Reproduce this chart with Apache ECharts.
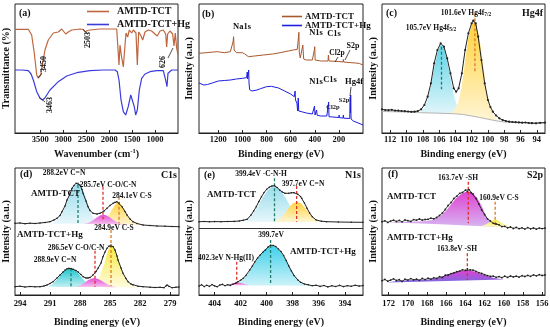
<!DOCTYPE html>
<html><head><meta charset="utf-8">
<script src="https://cdn.jsdelivr.net/npm/echarts@6/dist/echarts.min.js"></script>
<style>html,body{margin:0;padding:0;background:#fff}#c{width:550px;height:327px}</style>
</head><body><div id="c"></div>
<script>
// ---------- tick labels ----------
const ftirTicks = [3500,3000,2500,2000,1500,1000];
const surveyTicks = [1200,1000,800,600,400,200];
const hg4fTicks = [112,110,108,106,104,102,100,98,96,94];
const c1sTicks = [294,291,288,285,282,279];
const n1sTicks = [404,402,400,398,396,394];
const s2pTicks = [172,170,168,166,164,162,160,158,156];

// ---------- (a) FTIR ----------
const ftirTCT = [[4050,103.7],[3900,103.7],[3760,103.7],[3687,98],[3630,80],[3577,58],[3543,55],[3490,58],[3447,70],[3397,83],[3325,93],[3216,100],[3107,101],[3033,104],[2998,102],[2946,99],[2924,97],[2889,101],[2815,103],[2634,104],[2560,103.5],[2525,101],[2500,100],[2470,102.5],[2416,103],[2199,104],[1909,104],[1835,104],[1800,103],[1785,68],[1763,88],[1735,78],[1691,66],[1654,88],[1632,100],[1596,96],[1560,103],[1509,100],[1473,103],[1415,100],[1386,68],[1356,101],[1313,98],[1269,93],[1219,101],[1147,103],[1074,102],[1001,99],[951,97],[892,102],[820,103],[768,99],[747,86],[725,99],[675,102],[617,99],[588,87],[559,100],[530,85],[500,78]];
const ftirHg = [[4050,63],[3900,63],[3760,62.3],[3700,59],[3651,53],[3577,41.3],[3505,34.7],[3450,33],[3400,35],[3288,43],[3107,51.3],[2924,57],[2706,60.3],[2416,62.3],[2127,63],[1872,63],[1822,61.3],[1785,53],[1741,33],[1691,21.3],[1639,18],[1584,26.3],[1529,38],[1487,36.3],[1452,26.3],[1422,18],[1386,23],[1342,43],[1291,54.7],[1219,59],[1110,61.3],[965,62.3],[820,62.3],[780,62],[761,51.3],[740,46.3],[718,59.7],[637,63],[500,63]];

// ---------- (b) XPS survey ----------
const surveyTCT = [[1360,79.7],[1300,80.3],[1240,81],[1213,81.3],[1200,83],[1190,81],[1150,80.3],[1100,81.3],[1085,81.5],[1078,91],[1073,96.3],[1068,83],[1050,80.3],[1000,80.3],[980,79],[970,78],[950,76.3],[900,77],[826,78],[750,79],[688,80.3],[620,82],[578,83],[545,83.7],[535,96],[532,100.7],[528,80],[520,75],[505,75],[499,88],[496,90],[492,74],[470,73],[420,73],[405,73],[402,84],[400,86.3],[397,73],[350,72],[290,72],[287,78],[285,80],[282,72],[270,72],[200,71.5],[198,73],[195,71],[165,71],[163,73.5],[160,71],[100,70.3],[60,70],[30,69.5],[0,68]];
const surveyHg = [[1360,50],[1320,48],[1290,48.5],[1250,50],[1200,52],[1150,52.5],[1100,53],[1050,54],[1000,54.7],[965,55.3],[960,61],[957,54],[952,56],[948,63],[945,50],[940,43.3],[920,42],[880,43],[850,44.3],[800,46.3],[760,46.7],[700,45],[650,42],[600,39],[570,36.3],[566,35],[563,42],[560,33],[548,30],[542,22],[537,35],[533,22],[528,21.3],[520,21.3],[500,21],[470,20],[420,19],[405,18.3],[402,27],[398,18],[390,18],[385,23],[380,17.7],[370,17.7],[350,17],[300,17],[288,16.7],[285,31],[282,16.3],[250,16],[200,15.5],[198,18],[195,15.3],[165,15],[163,18],[160,14.8],[110,14.5],[106,36],[104,20],[102,38],[99,14],[80,12],[40,10],[0,8]];

// ---------- (c) Hg4f ----------
const hg4fData = [[113,23.7],[112.6,23],[112.2,22.8],[111.8,23.2],[111.4,22.4],[111,22.3],[110.6,22],[110.2,21.8],[109.8,21.5],[109.4,21.2],[109,21.3],[108.6,22],[108.2,23.7],[107.8,28],[107.4,36.3],[107,49.7],[106.6,69.7],[106.2,83],[105.8,89.7],[105.4,86.3],[105,74.7],[104.6,59.7],[104.2,44.7],[103.9,41.3],[103.6,44.7],[103.2,59.7],[102.8,83],[102.4,99.7],[102,109.7],[101.8,112.3],[101.5,109.7],[101.2,96.3],[100.8,73],[100.4,49.7],[100,33],[99.7,26],[99.4,21.3],[99,17.5],[98.6,14.7],[98.2,13],[97.8,12],[97.4,11.3],[97,11],[96.6,10.8],[96.2,10.6],[95.8,10.3],[95.4,10.5],[95,10],[94.6,9.8],[94.1,9.7],[93.6,10.2],[93,10.3]];
const hg4fBase = [[113,21.5],[110,21],[108.4,20.3],[106,19.8],[104,19.2],[103,18.5],[102,17],[101,15.5],[100,13.8],[99,12.2],[98,11],[97,10.5],[95,10.2],[93,10]];
const hg4f52 = [[108.4,20.3],[107.8,25],[107.4,33],[107,47],[106.6,65],[106.2,80],[105.8,88.5],[105.4,85],[105,72],[104.6,55],[104.2,38],[103.8,27],[103.4,21.5],[103,18.5]];
const hg4f72 = [[104.8,19.4],[104.4,21],[104,24],[103.6,32],[103.2,47],[102.8,72],[102.4,95],[102,108],[101.7,111.5],[101.4,108],[101,92],[100.6,68],[100.2,44],[99.8,28],[99.4,19],[99,14.5],[98.6,12.2],[98,11]];
const hg4fMarks = [[105.7,86.3,43.7],[101.6,119.7,61.3]];

// ---------- (d) C1s ----------
const c1sTCT = [[294.5,71.7],[294,72],[293.5,71.3],[293,71.8],[292.5,71.5],[292,72],[291.5,72.5],[291,73.3],[290.6,75],[290.3,76.7],[290,79.5],[289.8,83.3],[289.5,89],[289.3,95],[289,101],[288.8,106.7],[288.6,109.5],[288.4,111.7],[288.2,111.8],[288,110],[287.8,105.5],[287.7,101.7],[287.4,94],[287.2,88.3],[287,84.5],[286.7,81.7],[286.3,81],[286,81.7],[285.6,84],[285.3,86.7],[285,89.5],[284.7,91.7],[284.5,92.8],[284.3,93.3],[284.1,92],[283.8,88.3],[283.5,83.5],[283.3,80],[283,76],[282.7,73.3],[282.3,71.5],[281.7,70],[281,69.5],[280.3,69],[279.5,68.8],[278.8,68.5],[278.1,68.3]];
const c1sTCTBase = [[294.5,71.5],[291,71.4],[290,71.3],[289,71.2],[288,71.1],[287,71],[286,70.9],[285,70.7],[284,70.5],[283,70.2],[282,69.8],[281,69.4],[278.1,68.5]];
const c1sTCT_CN = [[290.8,71.3],[290.4,74],[290,78],[289.6,85],[289.2,96],[288.8,105.5],[288.4,110.5],[288.2,111],[287.9,109],[287.6,103],[287.2,91],[286.8,79],[286.4,74.5],[286,72.5],[285.6,71.3],[285.2,70.8]];
const c1sTCT_CO = [[287.6,71],[287.2,72],[286.8,74],[286.4,77],[286,79.5],[285.7,80.3],[285.4,79.7],[285,77.5],[284.6,74.5],[284.2,72.3],[283.8,71],[283.4,70.3]];
const c1sTCT_CS = [[286.2,70.9],[285.8,72.5],[285.4,76],[285,82],[284.6,88.5],[284.3,92.5],[284.1,93],[283.8,89.5],[283.5,84],[283.2,78.5],[282.8,74],[282.4,71.5],[282,69.8]];
const c1sTCTMarks = [[288.2,110,71.7],[285.7,108.3,75.7],[284.1,98.3,71.7]];
const c1sHg = [[294.5,8.3],[294,8.8],[293.5,8],[293,8.5],[292.5,8.2],[292,8.3],[291.6,9],[291.3,10],[291,11.5],[290.7,13.3],[290.3,17],[290,20],[289.7,23],[289.5,25],[289.3,26.2],[289.1,26.7],[288.9,26.5],[288.7,25.7],[288.4,24.5],[288.2,23.3],[287.9,20.5],[287.7,18.3],[287.4,17],[287.2,16.7],[287,17.5],[286.7,20],[286.4,23.5],[286.2,26.7],[285.9,32],[285.7,38.3],[285.5,43],[285.3,46.7],[285.1,49],[284.9,50],[284.7,48.5],[284.5,45],[284.3,39],[284.2,35],[283.9,27],[283.7,21.7],[283.4,16.5],[283.2,13.3],[282.9,11],[282.7,10],[282.2,8.8],[281.7,8.3],[281,7.8],[280.5,7.5],[280,7.7],[279.6,7.3],[279.4,9],[279.3,10],[279.1,8.5],[278.8,7.2],[278.4,7.8],[278.1,8]];
const c1sHgBase = [[294.5,8.2],[291,8.2],[290,8.1],[289,8.1],[288,8],[287,8],[286,7.9],[285,7.8],[284,7.7],[283,7.6],[282,7.5],[278.1,7.3]];
const c1sHg_CN = [[291.2,8.2],[290.8,10.5],[290.4,14.5],[290,19.5],[289.6,23.8],[289.2,26.2],[288.9,26.5],[288.6,25.5],[288.2,22],[287.8,17],[287.4,12.5],[287,9.8],[286.6,8.5],[286.2,7.9]];
const c1sHg_CO = [[288.4,8],[288,9.5],[287.6,12],[287.2,14.8],[286.8,16.5],[286.5,16.8],[286.2,16],[285.8,14],[285.4,11.5],[285,9.5],[284.6,8.3],[284.2,7.7]];
const c1sHg_CS = [[287.2,8],[286.8,9.5],[286.4,12.5],[286,19],[285.6,30],[285.3,41],[285.1,47],[284.9,49.5],[284.7,48.5],[284.5,45],[284.2,37],[283.9,28],[283.6,20],[283.2,13.5],[282.8,9.8],[282.4,8],[282,7.5]];
const c1sHgMarks = [[288.9,26.7,8.3],[286.5,44.3,8.3],[284.9,65,9]];

// ---------- (e) N1s ----------
const n1sTCT = [[405.2,73.3],[404.8,73.5],[404.4,73.2],[404,73.4],[403.5,73.3],[403,73.5],[402.5,73.6],[402.1,74],[401.8,74.8],[401.5,75.7],[401.2,80],[401,84],[400.8,88.3],[400.6,93.5],[400.4,98.3],[400.2,102.5],[400,105.7],[399.8,107.8],[399.6,109],[399.4,109.3],[399.2,107.5],[399,105],[398.8,103],[398.6,101.7],[398.3,101.7],[398.1,102.2],[397.9,102.3],[397.6,100.7],[397.4,98.5],[397.3,96.7],[397.1,92],[396.9,86.7],[396.7,82],[396.5,78.3],[396.2,75],[395.8,73.8],[395.4,73.3],[394.5,73],[393.5,72.8],[392.6,72.7]];
const n1sTCTBase = [[405.2,73.3],[402,73.3],[401,73.2],[400,73.1],[399,73],[398,73],[397,72.9],[396,72.9],[395,72.8],[392.6,72.7]];
const n1sTCT_CNH = [[401.9,73.3],[401.5,75.5],[401.1,80],[400.7,88],[400.3,97.5],[399.9,105],[399.6,108.3],[399.4,108.8],[399.1,106.5],[398.8,102],[398.5,96],[398.2,89],[397.9,83],[397.5,77.5],[397.1,74.5],[396.7,73.2]];
const n1sTCT_CN = [[399.6,73],[399.2,74.5],[398.9,77],[398.6,81.5],[398.3,87],[398,91.5],[397.7,93],[397.4,92],[397.1,88],[396.8,83],[396.5,78],[396.2,75],[395.8,73.2],[395.4,72.8]];
const n1sTCTMarks = [[399.4,116.7,73.3],[397.7,109,73.3]];
const n1sHg = [[405.2,9],[405,10.2],[404.8,8.4],[404.6,9.8],[404.4,8.6],[404.2,10.4],[404,9.1],[403.8,8.2],[403.6,9.9],[403.4,10.6],[403.2,9.3],[403,10.3],[402.8,9.6],[402.6,10.7],[402.4,11.8],[402.2,13.3],[402,14.8],[401.8,16.7],[401.6,19.5],[401.3,25],[401.1,29],[400.9,33.3],[400.7,37],[400.5,40],[400.3,42.8],[400.1,45],[399.9,48],[399.7,49.8],[399.5,49.5],[399.3,48.5],[399.1,46],[398.9,43.5],[398.7,39.5],[398.5,34.5],[398.3,29],[398.1,24],[397.9,19.5],[397.6,15],[397.4,12.8],[397.1,11],[396.8,10.2],[396.5,9.3],[396.2,9.8],[395.9,8.6],[395.6,9.5],[395.3,8.1],[395,9.2],[394.7,8.5],[394.4,9.6],[394.1,8.4],[393.8,9.3],[393.5,8.7],[393.2,9.8],[392.9,8.9],[392.6,9.4]];
const n1sHgBase = [[405.2,9.8],[403,9.8],[402,9.7],[401,9.6],[400,9.5],[399,9.4],[398,9.3],[397,9.2],[396,9.1],[392.6,9]];
const n1sHg_CNH = [[402.6,9.75],[402.2,12],[401.8,15.5],[401.4,22],[401,30],[400.6,38.5],[400.2,45],[399.8,48.8],[399.6,49.3],[399.3,48],[399,44.5],[398.6,37],[398.2,27],[397.8,18.5],[397.4,13],[397,10.5],[396.6,9.4]];
const n1sHg_NHg = [[403.2,9.8],[402.9,10.6],[402.6,11.7],[402.3,12.4],[402,12],[401.7,11],[401.4,10.1],[401.1,9.65]];
const n1sHgMarks = [[399.7,55,10],[402.3,33.3,11]];
const n1sDivider = [66.7];

// ---------- (f) S2p ----------
const s2pTCT = [[172.7,73.3],[172.4,74.2],[172.1,72.6],[171.8,73.9],[171.5,74.8],[171.2,73.5],[170.9,74.6],[170.6,73.2],[170.3,75.1],[170,74.3],[169.7,73.6],[169.4,75.4],[169.1,74.8],[168.8,76],[168.5,74.9],[168.2,75.5],[167.9,75.7],[167.6,76.8],[167.3,76.2],[167,77.5],[166.7,79.5],[166.4,82],[166.1,85.5],[165.8,89.5],[165.5,92.5],[165.2,96.5],[164.9,98.8],[164.6,101.7],[164.3,102.5],[164,104.8],[163.8,103.5],[163.6,105.2],[163.4,102.3],[163.2,101.2],[162.9,96.5],[162.6,91],[162.3,85],[162,80.5],[161.7,76.2],[161.4,74],[161.1,71.7],[160.8,71],[160.5,70.2],[160.2,68.4],[159.9,68.7],[159.6,67.2],[159.3,68],[159,66.5],[158.7,67.6],[158.4,66.3],[158.1,67.2],[157.8,65.9],[157.5,67.4],[157.2,66.2],[156.9,67],[156.6,65.8],[156.3,66.9],[156,66.4],[155.7,66.8]];
const s2pTCTBase = [[172.7,72.2],[170,72],[168,71.3],[166,70.5],[164,69.5],[162,68.7],[160,67.8],[158,66.8],[155.7,66.5]];
const s2pTCT_SH = [[172.2,72.2],[171,73],[170,73.3],[169,73.5],[168,74],[167.5,75],[167,76.5],[166.5,79.8],[166,84.5],[165.5,90.5],[165,96.5],[164.5,100.5],[164,103],[163.7,103.5],[163.3,102.5],[162.8,97.5],[162.3,89],[161.8,78],[161.3,72],[160.8,69.2],[160.3,68.1],[160,67.8]];
const s2pTCT_CS = [[162.4,68.85],[162,70],[161.6,72],[161.2,74.5],[160.9,75.5],[160.6,74.5],[160.2,72],[159.8,70],[159.4,68.5],[159,67.5],[158.6,67.1],[158,66.8]];
const s2pTCTMarks = [[163.7,113.3,71.7],[160.9,93.3,68.3]];
const s2pHg = [[172.7,14.3],[172.4,15.6],[172.1,13.8],[171.8,14.9],[171.5,16.2],[171.2,14.5],[170.9,15.3],[170.6,13.6],[170.3,15.8],[170,14.9],[169.7,16.4],[169.4,15.2],[169.1,15.9],[168.8,14.7],[168.5,16.6],[168.2,15.4],[167.9,16.8],[167.6,15.9],[167.3,17.2],[167,16.6],[166.7,18.3],[166.4,17.6],[166.1,19.8],[165.8,20],[165.5,21.4],[165.2,22.1],[164.9,23.3],[164.6,23.9],[164.3,25.2],[164,24.6],[163.8,26.2],[163.5,25.1],[163.2,24.8],[162.9,23.6],[162.6,22.4],[162.3,21.5],[162,20.3],[161.7,19.4],[161.4,18.6],[161.1,18.9],[160.8,17.7],[160.5,18.4],[160.2,17.3],[159.9,18.8],[159.6,17.6],[159.3,19],[159,18.1],[158.7,18.8],[158.4,17.9],[158.1,19.3],[157.8,18.5],[157.5,19.6],[157.2,18.7],[156.9,20.1],[156.6,19.2],[156.3,20.3],[156,19.5],[155.7,20]];
const s2pHgBase = [[172.7,12.5],[170,13],[168,13.5],[166,14],[164,14.5],[162,15],[160,15.5],[158,16],[155.7,16.5]];
const s2pHg_SH = [[172.2,12.6],[171,14.3],[170,14.8],[169,15.2],[168,15.6],[167.5,16],[167,16.7],[166.5,18.2],[166,20],[165.5,21.6],[165,23],[164.5,24],[164,24.6],[163.8,24.7],[163.4,24.3],[163,23.2],[162.5,21.5],[162,19.8],[161.5,18.3],[161,17.1],[160.5,16.2],[160,15.5]];
const s2pHgMarks = [[163.8,41.7,15]];

// ---------- styling ----------
const F = "'Liberation Serif','Times New Roman',serif";
const INK = '#111';
const RED_A = '#c0663f', BLUE_A = '#3b3bdc';
const RED_B = '#a8582e', BLUE_B = '#1e1ee0';
const TEAL = '#1f7f6a', REDD = '#e0302a', ORANGE = '#dd7a22';
const CY = ['#5fd4e6','#e2f6fa'], CY2 = ['#20c6d0','#c4f0f3'], CY3 = ['#40d0ea','#cdf3f9'], CYL = ['#98dcec','#e8f7fb'];
const YE = ['#ffd23c','#fff6d6'], YE2 = ['#f6ea3c','#fffbe0'];
const MA = ['#e24ad6','#f6c6ef'], MAF = ['#e042d2','#d6b6f2'], MAB = ['#e042d2','#7a6ae2'];

const grids = [
  {left:15, top:4, width:163, height:129},
  {left:199, top:4, width:164, height:129},
  {left:382, top:4, width:163, height:129},
  {left:15, top:168, width:164, height:127},
  {left:199, top:168, width:164, height:127},
  {left:382, top:168, width:163, height:127}
].map(g => Object.assign({show:true, borderColor:'#222', borderWidth:1, backgroundColor:'transparent',
  containLabel:false, outerBoundsMode:'none'}, g));

function xAx(gi, min, max, ticks, name, gap, margin){
  return {type:'value', gridIndex:gi, min, max, inverse:true, name, nameLocation:'middle', nameGap:gap,
    nameTextStyle:{fontFamily:F, fontWeight:'bold', fontSize:10, color:INK, lineHeight:12,
      rich:{sup:{fontFamily:F, fontWeight:'bold', fontSize:6.5, color:INK, verticalAlign:'top', lineHeight:7}}},
    axisLine:{show:true, onZero:false, lineStyle:{color:'#222', width:1}},
    axisTick:{show:true, inside:true, length:3, customValues:ticks, lineStyle:{color:'#222', width:1}},
    axisLabel:{show:true, customValues:ticks, formatter:v => String(v), hideOverlap:false,
      fontFamily:F, fontWeight:'bold', fontSize:8.5, color:INK, margin},
    splitLine:{show:false}};
}
function yAx(gi, max, name, gap){
  return {type:'value', gridIndex:gi, min:0, max, name, nameLocation:'middle', nameGap:gap,
    nameTextStyle:{fontFamily:F, fontWeight:'bold', fontSize:10, color:INK},
    axisLine:{show:false}, axisTick:{show:false}, axisLabel:{show:false}, splitLine:{show:false}};
}
function line(gi, name, data, color, width, sym, z){
  return {type:'line', name, xAxisIndex:gi, yAxisIndex:gi, data, silent:true, animation:false,
    showSymbol:!!sym, symbol:'circle', symbolSize:sym||0, itemStyle:{color},
    lineStyle:{color, width}, z:z||5, clip:true};
}
function fill(gi, comp, base, cols, z){
  return {type:'custom', xAxisIndex:gi, yAxisIndex:gi, silent:true, animation:false, z:z||2, data:comp, clip:true,
    renderItem:(params, api) => {
      if (params.dataIndex !== 0) return null;
      const xs = comp.map(p => p[0]);
      const lo = Math.min(...xs), hi = Math.max(...xs);
      const top = comp.slice().sort((a,b) => b[0]-a[0]).map(p => api.coord(p));
      const bot = base.filter(p => p[0] > lo && p[0] < hi).sort((a,b) => a[0]-b[0]).map(p => api.coord(p));
      return {type:'polygon', shape:{points: top.concat(bot)},
        style:{fill: new echarts.graphic.LinearGradient(0,0,0,1,[{offset:0,color:cols[0]},{offset:1,color:cols[1]}]), stroke:null}};
    }};
}
function marks(gi, list, colors){
  return list.map((m,i) => ({type:'line', xAxisIndex:gi, yAxisIndex:gi, silent:true, animation:false,
    data:[[m[0],m[1]],[m[0],m[2]]], showSymbol:false, symbol:'none',
    lineStyle:{color:colors[i], width:1.3, type:[3,2]}, z:6}));
}

const series = [
  line(0,'AMTD-TCT',ftirTCT,RED_A,1.2),
  line(0,'AMTD-TCT+Hg',ftirHg,BLUE_A,1.2),
  line(1,'AMTD-TCT',surveyTCT,RED_B,1),
  line(1,'AMTD-TCT+Hg',surveyHg,BLUE_B,1),
  // (c)
  fill(2,hg4f52,hg4fBase,CY,2),
  fill(2,hg4f72,hg4fBase,YE,3),
  line(2,'bgc',hg4fBase,'#b4b4b4',1,0,4),
  ...marks(2,hg4fMarks,[TEAL,ORANGE]),
  line(2,'hg4f',hg4fData,'#222',1,2.2,7),
  // (d)
  fill(3,c1sTCT_CN,c1sTCTBase,CYL,2),
  fill(3,c1sTCT_CS,c1sTCTBase,YE,3),
  fill(3,c1sTCT_CO,c1sTCTBase,MA,4),
  fill(3,c1sHg_CN,c1sHgBase,CY2,2),
  fill(3,c1sHg_CS,c1sHgBase,YE2,3),
  fill(3,c1sHg_CO,c1sHgBase,MA,4),
  ...marks(3,c1sTCTMarks,[TEAL,REDD,ORANGE]),
  ...marks(3,c1sHgMarks,[TEAL,REDD,ORANGE]),
  line(3,'c1a',c1sTCT,'#222',1,1.6,7),
  line(3,'c1b',c1sHg,'#222',1,1.6,7),
  // (e)
  fill(4,n1sTCT_CNH,n1sTCTBase,CYL,2),
  fill(4,n1sTCT_CN,n1sTCTBase,YE,3),
  fill(4,n1sHg_CNH,n1sHgBase,CY3,2),
  fill(4,n1sHg_NHg,n1sHgBase,MA,3),
  ...marks(4,n1sTCTMarks,[TEAL,REDD]),
  ...marks(4,n1sHgMarks,[TEAL,REDD]),
  line(4,'n1a',n1sTCT,'#222',1,1.6,7),
  Object.assign(line(4,'n1b',n1sHg,'#222',1,1.6,7), {markLine:{silent:true, symbol:'none', animation:false,
    label:{show:false}, lineStyle:{color:'#333', type:'solid', width:1}, data: n1sDivider.map(v => ({yAxis:v}))}}),
  // (f)
  fill(5,s2pTCT_SH,s2pTCTBase,MAF,2),
  fill(5,s2pTCT_CS,s2pTCTBase,YE2,3),
  fill(5,s2pHg_SH,s2pHgBase,MAB,2),
  ...marks(5,s2pTCTMarks,[REDD,ORANGE]),
  ...marks(5,s2pHgMarks,[REDD]),
  line(5,'s2a',s2pTCT,'#222',0.9,1.8,7),
  line(5,'s2b',s2pHg,'#222',0.9,1.8,7)
];

// ---------- annotations ----------
function T(x, y, text, size, align, extra, rich){
  const st = {text, fill:INK, fontSize:size, fontWeight:'bold', fontFamily:F, align:align||'center', verticalAlign:'middle'};
  if (rich) { st.rich = rich; st.lineHeight = size + 2; }
  return Object.assign({type:'text', x, y, silent:true, z:100, style:st}, extra||{});
}
function L(x1,y1,x2,y2){ return {type:'line', silent:true, z:100, shape:{x1,y1,x2,y2}, style:{stroke:'#222', lineWidth:0.8}}; }
const R90 = {rotation:Math.PI/2};
const SUB = {s:{fontFamily:F, fontWeight:'bold', fontSize:5.5, fill:INK, verticalAlign:'bottom', lineHeight:6}};

const graphic = [
  // (a)
  T(19,13,'(a)',10,'left'),
  T(44,64,'3450',8,'center',R90), L(38,78,42,73),
  T(87.5,40,'2503',8,'center',R90), L(83,29.5,87,33),
  T(49.5,105,'3463',8,'center',R90), L(39,97,45,102),
  T(163,62,'626',8,'center',R90), L(168,58,173,48),
  // (b)
  T(202,14,'(b)',10,'left'),
  T(242,27,'Na1s',8.5), T(316,33,'N1s',8.5), T(334,34,'C1s',8.5),
  T(337,53,'Cl2p',7.5), L(338,57,335,62), T(353,46,'S2p',8), L(350,50,345,60),
  T(316,82,'N1s',8.5), T(330,80,'C1s',8.5), T(333,107,'Cl2p',6.5), T(344,100,'S2p',6.5),
  T(354,82,'Hg4f',8.5), L(351,87,350,96),
  // (c)
  T(386,13,'(c)',10,'left'), T(543,13,'Hg4f',10,'right'),
  T(431,28,'105.7eV Hg4f{s|5/2}',7.5,'center',null,SUB),
  T(466,13,'101.6eV Hg4f{s|7/2}',7.5,'center',null,SUB),
  // (d)
  T(20,174,'(d)',10,'left'), T(177,175,'C1s',10,'right'),
  T(64,173,'288.2eV C=N',7.5), T(108,185,'285.7eV C-O/C-N',7.5), T(132,196,'284.1eV C-S',7.5),
  T(31,194,'AMTD-TCT',9,'left'), T(17,235,'AMTD-TCT+Hg',9,'left'),
  T(114,228,'284.9eV C-S',7.5), T(76,248,'286.5eV C-O/C-N',7.5), T(55,260,'288.9eV C=N',7.5),
  // (e)
  T(204,175,'(e)',10,'left'), T(361,175,'N1s',10,'right'),
  T(261,174,'399.4eV -C-N-H',7.5), T(303,184,'397.7eV C=N',7.5),
  T(207,195,'AMTD-TCT',9,'left'),
  T(271,235,'399.7eV',7.5), T(226,258,'402.3eV N-Hg(II)',7.5),
  T(290,252,'AMTD-TCT+Hg',9,'left'),
  // (f)
  T(388,174,'(f)',10,'left'), T(543,175,'S2p',10,'right'),
  T(458,178,'163.7eV -SH',7.5), T(499,198,'160.9eV C-S',7.5),
  T(387,197,'AMTD-TCT',9,'left'), T(387,238,'AMTD-TCT+Hg',9,'left'),
  T(457,249,'163.8eV -SH',7.5)
];

const option = {
  animation:false,
  backgroundColor:'#fff',
  grid: grids,
  xAxis: [
    xAx(0, 500, 4050, ftirTicks, 'Wavenumber (cm{sup|-1})', 15, 2),
    xAx(1, 0, 1360, surveyTicks, 'Binding energy (eV)', 15, 2),
    xAx(2, 93, 113, hg4fTicks, 'Binding energy (eV)', 15, 2),
    xAx(3, 278.1, 294.5, c1sTicks, 'Binding energy (eV)', 21, 4),
    xAx(4, 392.6, 405.2, n1sTicks, 'Binding energy (eV)', 21, 4),
    xAx(5, 155.7, 172.7, s2pTicks, 'Binding energy (eV)', 21, 4)
  ],
  yAxis: [
    yAx(0,129,'Transmittance (%)',4), yAx(1,129,'Intensity (a.u.)',5), yAx(2,129,'Intensity (a.u.)',3.5),
    yAx(3,127,'Intensity (a.u.)',4), yAx(4,127,'Intensity (a.u.)',5), yAx(5,127,'Intensity (a.u.)',3.5)
  ],
  legend: [
    {left:82, top:1, orient:'vertical', icon:'rect', itemWidth:22, itemHeight:1.6, itemGap:2, selectedMode:false,
     textStyle:{fontFamily:F, fontWeight:'bold', fontSize:10, color:INK, lineHeight:11, padding:[0,0,0,3]},
     data:[{name:'AMTD-TCT', itemStyle:{color:RED_A}}, {name:'AMTD-TCT+Hg', itemStyle:{color:BLUE_A}}]},
    {left:277, top:7, orient:'vertical', icon:'rect', itemWidth:20, itemHeight:1.6, itemGap:0, selectedMode:false,
     textStyle:{fontFamily:F, fontWeight:'bold', fontSize:9, color:INK, lineHeight:9, padding:[0,0,0,-2]},
     data:[{name:'AMTD-TCT', itemStyle:{color:RED_B}}, {name:'AMTD-TCT+Hg', itemStyle:{color:BLUE_B}}]}
  ],
  series,
  graphic
};
const chart = echarts.init(document.getElementById('c'), null, {renderer:'canvas'});
chart.setOption(option);
</script></body></html>
